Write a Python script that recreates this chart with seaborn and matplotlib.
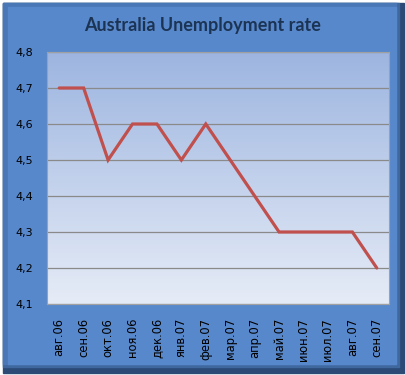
import numpy as np
import pandas as pd
import matplotlib
matplotlib.use("Agg")
import matplotlib.pyplot as plt
import seaborn as sns
from matplotlib.patches import Rectangle
from matplotlib.colors import LinearSegmentedColormap

months = ["авг.06", "сен.06", "окт.06", "ноя.06", "дек.06", "янв.07", "фев.07",
          "мар.07", "апр.07", "май.07", "июн.07", "июл.07", "авг.07", "сен.07"]
rate = [4.7, 4.7, 4.5, 4.6, 4.6, 4.5, 4.6, 4.5, 4.4, 4.3, 4.3, 4.3, 4.3, 4.2]
yticks = [4.1, 4.2, 4.3, 4.4, 4.5, 4.6, 4.7, 4.8]
ytick_labels = ["4,1", "4,2", "4,3", "4,4", "4,5", "4,6", "4,7", "4,8"]
title = "Australia Unemployment rate"

sns.set_theme(style="white")
plt.rcParams['font.family'] = ['DejaVu Sans']

W, H = 406, 375
fig = plt.figure(figsize=(W / 100, H / 100), dpi=100)
fig.patch.set_facecolor("white")

def px(x0, y0, x1, y1):
    return (x0 / W, 1 - y1 / H), (x1 - x0) / W, (y1 - y0) / H

# outer frame with bevel
(xy, w, h) = px(3, 3, 404, 373)
fig.patches.append(Rectangle(xy, w, h, transform=fig.transFigure, color="#2b4a75", zorder=0))
(xy, w, h) = px(3, 3, 399, 367)
fig.patches.append(Rectangle(xy, w, h, transform=fig.transFigure, color="#3f689f", zorder=0))
(xy, w, h) = px(3, 3, 396, 364)
fig.patches.append(Rectangle(xy, w, h, transform=fig.transFigure, color="#4a77b5", zorder=0))
(xy, w, h) = px(8, 7, 396, 364)
fig.patches.append(Rectangle(xy, w, h, transform=fig.transFigure, color="#5888cc", zorder=0))

ax = fig.add_axes([47 / W, 1 - 304 / H, 342 / W, 252 / H])
ax.set_zorder(1)

df = pd.DataFrame({"month": months, "rate": rate})
df["pos"] = np.arange(len(months))

grad = np.linspace(0, 1, 256).reshape(-1, 1)
cmap = LinearSegmentedColormap.from_list("bg", ["#e6ecf7", "#9db5e0"])
ax.imshow(grad, extent=[0, 1, 0, 1], transform=ax.transAxes, cmap=cmap,
          aspect="auto", origin="lower", zorder=0)

for y in yticks:
    ax.axhline(y, color="#8a8a8a", lw=0.9, zorder=1)

sns.lineplot(data=df, x="pos", y="rate", ax=ax, color="#c0504d", lw=2.3,
             zorder=3, solid_joinstyle="miter")

ax.set_xlim(-0.5, len(months) - 0.5)
ax.set_ylim(4.1, 4.8)
ax.set_yticks(yticks)
ax.set_yticklabels(ytick_labels, fontsize=8, color="black")
ax.set_xticks(df["pos"])
ax.set_xticklabels(months, rotation=90, fontsize=8.3, color="black")
ax.tick_params(axis="y", length=0, pad=10)
ax.tick_params(axis="x", length=0, pad=10)
ax.set_xlabel("")
ax.set_ylabel("")
for s in ax.spines.values():
    s.set_color("#a0a0a0")
    s.set_linewidth(0.8)

fig.text(203 / W, 1 - 25 / H, title, ha="center", va="center", fontsize=13,
         fontweight="bold", color="#1c3454", family=["Lato", "DejaVu Sans"])

fig.savefig("out.png", dpi=100, facecolor=fig.get_facecolor())
